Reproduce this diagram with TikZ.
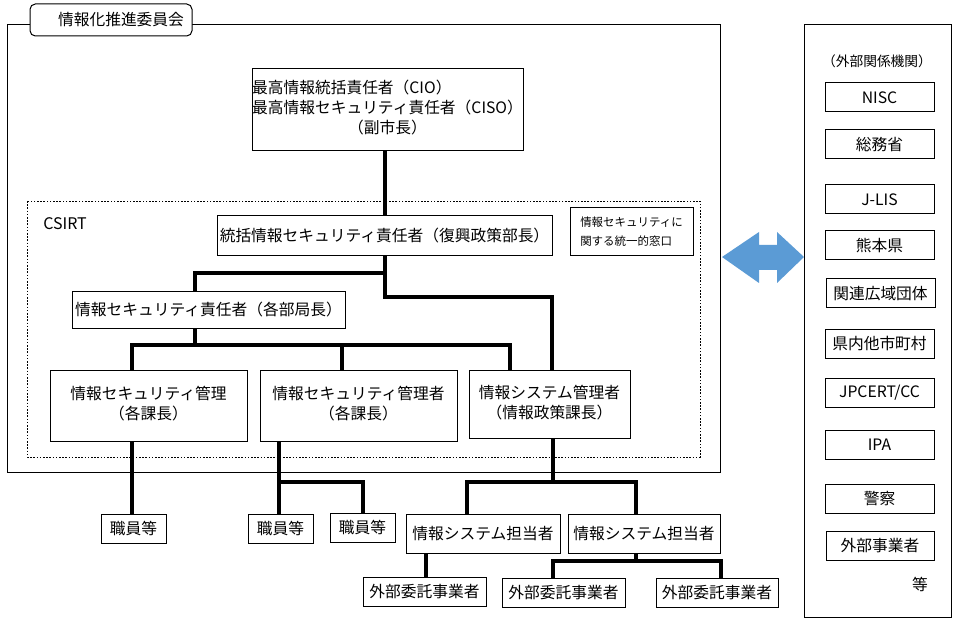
\documentclass[tikz,border=0pt]{standalone}
\usepackage{fontspec}
\setmainfont{Noto Sans CJK JP}
\definecolor{arrowblue}{RGB}{91,155,213}
\newcommand\twolines[2]{\begin{tabular}{@{}c@{}}#1\\#2\end{tabular}}
\tikzset{
  box/.style={draw, line width=0.75pt, fill=white, inner sep=0pt,
    font=\fontsize{11.8}{15}\selectfont},
  sz/.style 2 args={minimum width=#1*0.75pt, minimum height=#2*0.75pt},
  smallbox/.style={box, font=\fontsize{8.6}{14}\selectfont},
  conn/.style={line width=2.4pt, line join=miter},
  frame/.style={draw, line width=0.75pt},
  dotframe/.style={draw, line width=0.6pt, dash pattern=on 1.2pt off 1.2pt},
  plain/.style={inner sep=0pt, font=\fontsize{11.8}{15}\selectfont},
}
\begin{document}
\begin{tikzpicture}[x=0.75pt,y=-0.75pt]
\useasboundingbox (0,0) rectangle (959,623);
\fill[white] (0,0) rectangle (959,623);

% frames
\draw[frame] (7,25) rectangle (720,472);
\node[draw, line width=0.75pt, rounded corners=4pt, fill=white, inner sep=0pt, sz={162}{32}] (tab) at (111,20) {};
\node[plain] (tabtext) at (121,20) {情報化推進委員会};
\draw[dotframe] (27,201) rectangle (700,457);
\node[plain, anchor=west, font=\fontsize{12}{15}\selectfont] (csirt) at (43,224) {CSIRT};
\draw[frame] (804,25) rectangle (951,617);

% main boxes
\node[box, sz={271}{82}] (cio) at (387.5,110) {\begin{tabular}{@{}l@{}}最高情報統括責任者（CIO）\\最高情報セキュリティ責任者（CISO）\\\multicolumn{1}{@{}c@{}}{（副市長）}\end{tabular}};
\node[box, sz={335}{40}] (tokatsu) at (384.5,236) {統括情報セキュリティ責任者（復興政策部長）};
\node[smallbox, sz={123}{48}] (mado) at (631.5,232) {\begin{tabular}{@{}l@{}}情報セキュリティに\\関する統一的窓口\end{tabular}};
\node[box, sz={273}{36}] (sekinin) at (208.5,310) {情報セキュリティ責任者（各部局長）};
\node[box, sz={197}{71}] (kanri1) at (148.5,405.5) {\twolines{情報セキュリティ管理}{（各課長）}};
\node[box, sz={197}{71}] (kanri2) at (358.5,405.5) {\twolines{情報セキュリティ管理者}{（各課長）}};
\node[box, sz={161}{68}] (sysk) at (549.5,404) {\twolines{情報システム管理者}{（情報政策課長）}};
\node[box, sz={65}{29}] (shokuin1) at (133.5,528.5) {職員等};
\node[box, sz={65}{29}] (shokuin2) at (280.5,528.5) {職員等};
\node[box, sz={65}{29}] (shokuin3) at (362.5,527.5) {職員等};
\node[box, sz={154}{39}] (tanto1) at (483,533.5) {情報システム担当者};
\node[box, sz={152}{39}] (tanto2) at (644,533.5) {情報システム担当者};
\node[box, sz={123}{29}] (itaku1) at (424.5,591.5) {外部委託事業者};
\node[box, sz={123}{29}] (itaku2) at (563.5,592.5) {外部委託事業者};
\node[box, sz={122}{29}] (itaku3) at (717,592.5) {外部委託事業者};

% external organisations
\node[plain, font=\fontsize{10.3}{12}\selectfont] (gaibu) at (877,61) {（外部関係機関）};
\node[box, sz={109}{29}] (nisc) at (879.5,97.5) {NISC};
\node[box, sz={109}{29}] (soumu) at (879.5,144.5) {総務省};
\node[box, sz={109}{29}] (jlis) at (879.5,199.5) {J-LIS};
\node[box, sz={109}{29}] (kumamoto) at (879.5,245.5) {熊本県};
\node[box, sz={109}{29}] (kanren) at (880.5,293.5) {関連広域団体};
\node[box, sz={109}{29}] (kennai) at (879.5,343.5) {県内他市町村};
\node[box, sz={109}{29}] (jpcert) at (879.5,392.5) {JPCERT/CC};
\node[box, sz={109}{29}] (ipa) at (879.5,444.5) {IPA};
\node[box, sz={109}{29}] (keisatsu) at (879.5,498.5) {警察};
\node[box, sz={108}{29}] (jigyo) at (880,545.5) {外部事業者};
\node[plain] (tou) at (920,584) {等};

% blue double arrow
\fill[arrowblue] (722,257) -- (759,232) -- (759,245) -- (777,245) -- (777,232) -- (804,257)
  -- (777,283) -- (777,270) -- (759,270) -- (759,283) -- cycle;

% connectors
\coordinate (xc) at (385,0);
\draw[conn] (cio.south -| xc) -- (tokatsu.north -| xc);
\coordinate (ja) at (195,273);
\draw[conn] (tokatsu.south -| xc) |- (ja) -- (ja |- sekinin.north);
\coordinate (jb) at (552,297);
\draw[conn] (tokatsu.south -| xc) |- (jb) -- (jb |- sysk.north);
\coordinate (jc) at (195,345);
\draw[conn] (sekinin.south -| jc) -- (jc);
\coordinate (d1) at (132,345);
\coordinate (d2) at (342,345);
\coordinate (d3) at (510,345);
\draw[conn] (d1 |- kanri1.north) -- (d1) -- (d3) -- (d3 |- sysk.north);
\draw[conn] (d2) -- (d2 |- kanri2.north);
\coordinate (e1) at (132,0);
\draw[conn] (kanri1.south -| e1) -- (shokuin1.north -| e1);
\coordinate (f1) at (279,482);
\coordinate (f2) at (363,482);
\draw[conn] (kanri2.south -| f1) -- (shokuin2.north -| f1);
\draw[conn] (f1) -- (f2) -- (f2 |- shokuin3.north);
\coordinate (g0) at (553,482);
\coordinate (g1) at (467,482);
\coordinate (g2) at (636,482);
\draw[conn] (sysk.south -| g0) -- (g0);
\draw[conn] (g1 |- tanto1.north) -- (g1) -- (g2) -- (g2 |- tanto2.north);
\coordinate (h1) at (426,0);
\draw[conn] (tanto1.south -| h1) -- (itaku1.north -| h1);
\coordinate (k0) at (636,561);
\coordinate (k1) at (553,561);
\coordinate (k2) at (721,561);
\draw[conn] (tanto2.south -| k0) -- (k0);
\draw[conn] (k1 |- itaku2.north) -- (k1) -- (k2) -- (k2 |- itaku3.north);
\end{tikzpicture}
\end{document}
